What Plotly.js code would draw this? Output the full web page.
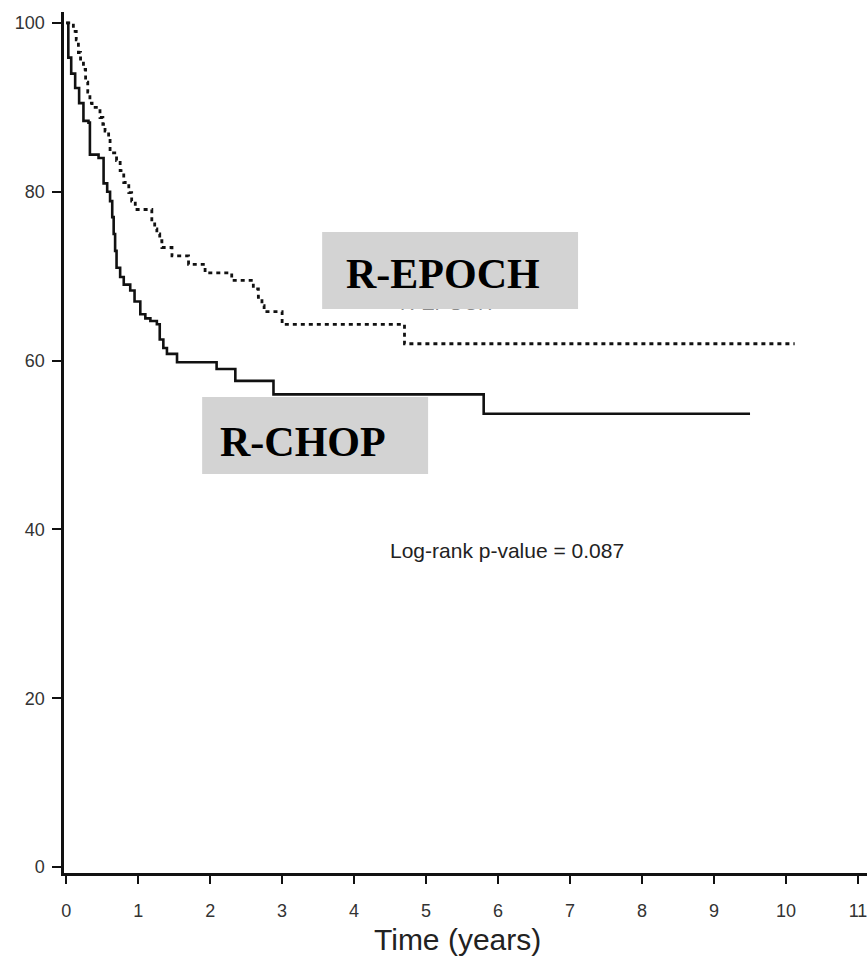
<!DOCTYPE html>
<html>
<head>
<meta charset="utf-8">
<script src="https://cdn.plot.ly/plotly-3.0.1.min.js"></script>
<style>html,body{margin:0;padding:0;background:#fff;}#chart{width:867px;height:977px;}</style>
</head>
<body>
<div id="chart"></div>
<script>
// R-CHOP (solid) Kaplan-Meier step points
const chopTime = [0, 0.03, 0.07, 0.125, 0.18, 0.24, 0.31, 0.33, 0.45, 0.52, 0.57, 0.61, 0.64, 0.66, 0.68, 0.70, 0.75, 0.80, 0.89, 0.95, 1.03, 1.10, 1.17, 1.26, 1.30, 1.35, 1.40, 1.54, 2.09, 2.35, 2.88, 5.80, 9.50];
const chopSurv = [100, 95.9, 94.0, 92.3, 90.5, 88.4, 88.2, 84.4, 84.0, 81.0, 80.0, 78.9, 77.0, 75.0, 73.0, 71.0, 69.9, 69.0, 68.3, 67.0, 65.5, 65.0, 64.7, 64.3, 62.5, 61.5, 60.8, 59.8, 59.0, 57.6, 56.0, 53.7, 53.7];
// R-EPOCH (dotted) Kaplan-Meier step points
const epochTime = [0, 0.10, 0.14, 0.17, 0.20, 0.24, 0.27, 0.30, 0.33, 0.36, 0.47, 0.51, 0.54, 0.59, 0.61, 0.70, 0.75, 0.80, 0.87, 0.91, 0.96, 1.19, 1.23, 1.26, 1.30, 1.33, 1.47, 1.70, 1.93, 2.30, 2.60, 2.67, 2.72, 2.75, 3.00, 4.70, 10.12];
const epochSurv = [100, 99.0, 98.0, 96.5, 95.5, 94.5, 93.0, 91.8, 90.5, 90.0, 88.8, 88.0, 87.2, 86.4, 84.6, 83.7, 82.5, 81.1, 79.9, 78.9, 77.9, 76.4, 75.6, 75.0, 74.2, 73.4, 72.4, 71.4, 70.4, 69.5, 68.5, 67.5, 66.5, 65.8, 64.3, 62.0, 62.0];
// Axis ticks
const xTicks = [0, 1, 2, 3, 4, 5, 6, 7, 8, 9, 10, 11];
const yTicks = [0, 20, 40, 60, 80, 100];
const groupNames = ['R-CHOP', 'R-EPOCH'];
const xTitle = 'Time (years)';
const pText = 'Log-rank p-value = 0.087';

const traces = [
  {x: chopTime, y: chopSurv, type: 'scatter', mode: 'lines', line: {shape: 'hv', color: '#111', width: 2.6}, name: groupNames[0], hoverinfo: 'skip'},
  {x: epochTime, y: epochSurv, type: 'scatter', mode: 'lines', line: {shape: 'hv', color: '#111', width: 2.8, dash: '4px,4px'}, name: groupNames[1], hoverinfo: 'skip'},
  // original faint label, mostly hidden under the grey box
  {x: [5.28], y: [66.6], type: 'scatter', mode: 'text', text: [groupNames[1]], textposition: 'middle center', textfont: {family: 'Liberation Sans, Arial, sans-serif', size: 20, color: '#8a8a8a'}, hoverinfo: 'skip'}
];

const layout = {
  width: 867, height: 977,
  margin: {l: 64, r: 0, t: 12, b: 104, pad: 0},
  paper_bgcolor: '#fff', plot_bgcolor: '#fff',
  showlegend: false,
  font: {family: 'Liberation Sans, Arial, sans-serif', color: '#222'},
  xaxis: {
    range: [-0.03, 11.125], tickvals: xTicks, ticktext: xTicks.map(String),
    ticks: 'outside', ticklen: 8, tickwidth: 2, tickcolor: '#111',
    showline: true, linewidth: 2.6, linecolor: '#111', mirror: false,
    showgrid: false, zeroline: false, tickfont: {size: 18, color: '#333'},
    ticklabelstandoff: 12, ticklabeloverflow: 'allow', fixedrange: true
  },
  yaxis: {
    range: [-0.7, 101.3], tickvals: yTicks, ticktext: yTicks.map(String),
    ticks: 'outside', ticklen: 9, tickwidth: 2, tickcolor: '#111',
    showline: true, linewidth: 2.6, linecolor: '#111',
    showgrid: false, zeroline: false, tickfont: {size: 18, color: '#333'},
    ticklabelstandoff: 4, ticklabeloverflow: 'allow', fixedrange: true
  },
  shapes: [
    {type: 'rect', xref: 'x', yref: 'y', x0: 3.556, x1: 7.111, y0: 66.11, y1: 75.24, fillcolor: '#d3d3d3', line: {width: 0}, layer: 'above'},
    {type: 'rect', xref: 'x', yref: 'y', x0: 1.889, x1: 5.028, y0: 46.56, y1: 55.69, fillcolor: '#d3d3d3', line: {width: 0}, layer: 'above'}
  ],
  annotations: [
    {x: 5.229, y: 70.3, xref: 'x', yref: 'y', text: '<b>' + groupNames[1] + '</b>', showarrow: false, xanchor: 'center', yanchor: 'middle', font: {family: 'Liberation Serif, Times New Roman, serif', size: 42, color: '#000'}},
    {x: 3.29, y: 50.4, xref: 'x', yref: 'y', text: '<b>' + groupNames[0] + '</b>', showarrow: false, xanchor: 'center', yanchor: 'middle', font: {family: 'Liberation Serif, Times New Roman, serif', size: 42, color: '#000'}},
    {x: 6.118, y: 37.5, xref: 'x', yref: 'y', text: pText, showarrow: false, xanchor: 'center', yanchor: 'middle', font: {family: 'Liberation Sans, Arial, sans-serif', size: 21, color: '#222'}},
    {x: 0.4896, y: -0.0775, xref: 'paper', yref: 'paper', text: xTitle, showarrow: false, xanchor: 'center', yanchor: 'middle', borderpad: 0, font: {family: 'Liberation Sans, Arial, sans-serif', size: 30, color: '#222'}}
  ]
};

Plotly.newPlot('chart', traces, layout, {staticPlot: true, displayModeBar: false});
</script>
</body>
</html>
